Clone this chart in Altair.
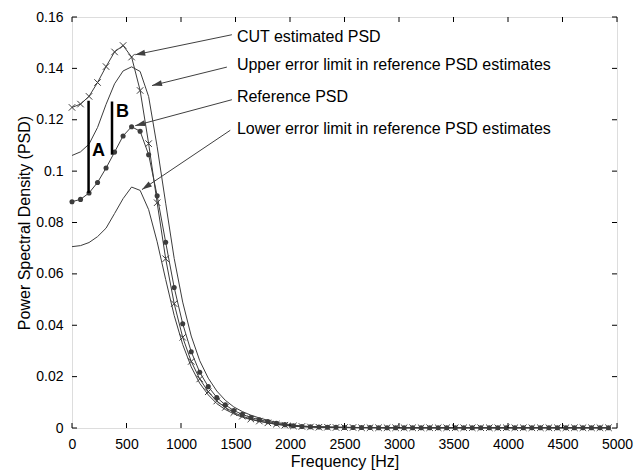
import math
import altair as alt
import pandas as pd

# ---------------- data ----------------
freq_step = 78.125
freq = [i * freq_step for i in range(64)]

ref_psd = [0.0881, 0.0890, 0.0915, 0.0956, 0.1012, 0.1074, 0.1137, 0.1173, 0.1155, 0.1064,
           0.0904, 0.0723, 0.0547, 0.0406, 0.0297, 0.0217, 0.0161, 0.0119, 0.0090, 0.0068,
           0.0053, 0.0041, 0.0032, 0.0025, 0.0018, 0.0013, 0.0009, 0.0006, 0.0005, 0.0004,
           0.0003, 0.0003, 0.0002, 0.0002, 0.0002, 0.0002, 0.0001, 0.0001, 0.0001, 0.0001,
           0.0001, 0.0001, 0.0001, 0.0001, 0.0001, 0.0001, 0.0001, 0.0001, 0.0001, 0.0001,
           0.0001, 0.0001, 0.0001, 0.0001, 0.0001, 0.0001, 0.0001, 0.0001, 0.0001, 0.0001,
           0.0001, 0.0001, 0.0001, 0.0001]

cut_psd = [0.1248, 0.1261, 0.1291, 0.1345, 0.1407, 0.1464, 0.1489, 0.1444, 0.1314, 0.1107,
           0.0877, 0.0659, 0.0484, 0.0353, 0.0259, 0.0191, 0.0141, 0.0105, 0.0080, 0.0060,
           0.0046, 0.0035, 0.0027, 0.0020, 0.0015, 0.0011, 0.0008, 0.0006, 0.0004, 0.0003,
           0.0003, 0.0002, 0.0002, 0.0002, 0.0001, 0.0001, 0.0001, 0.0001, 0.0001, 0.0001,
           0.0001, 0.0001, 0.0001, 0.0001, 0.0001, 0.0001, 0.0001, 0.0001, 0.0001, 0.0001,
           0.0001, 0.0001, 0.0001, 0.0001, 0.0001, 0.0001, 0.0001, 0.0001, 0.0001, 0.0001,
           0.0001, 0.0001, 0.0001, 0.0001]

upper_psd = [0.1061, 0.1075, 0.1105, 0.1170, 0.1260, 0.1340, 0.1390, 0.1406, 0.1388, 0.1290,
             0.1095, 0.0875, 0.0660, 0.0490, 0.0358, 0.0262, 0.0194, 0.0144, 0.0108, 0.0082,
             0.0064, 0.0050, 0.0039, 0.0030, 0.0022, 0.0016, 0.0011, 0.0008, 0.0006, 0.0005,
             0.0004, 0.0003, 0.0003, 0.0002, 0.0002, 0.0002, 0.0002, 0.0001, 0.0001, 0.0001,
             0.0001, 0.0001, 0.0001, 0.0001, 0.0001, 0.0001, 0.0001, 0.0001, 0.0001, 0.0001,
             0.0001, 0.0001, 0.0001, 0.0001, 0.0001, 0.0001, 0.0001, 0.0001, 0.0001, 0.0001,
             0.0001, 0.0001, 0.0001, 0.0001]

lower_psd = [0.0706, 0.0710, 0.0722, 0.0745, 0.0778, 0.0835, 0.0893, 0.0938, 0.0925, 0.0850,
             0.0725, 0.0578, 0.0438, 0.0325, 0.0238, 0.0174, 0.0129, 0.0095, 0.0072, 0.0055,
             0.0042, 0.0033, 0.0026, 0.0020, 0.0014, 0.0010, 0.0007, 0.0005, 0.0004, 0.0003,
             0.0002, 0.0002, 0.0002, 0.0001, 0.0001, 0.0001, 0.0001, 0.0001, 0.0001, 0.0001,
             0.0001, 0.0001, 0.0001, 0.0001, 0.0001, 0.0001, 0.0001, 0.0001, 0.0001, 0.0001,
             0.0001, 0.0001, 0.0001, 0.0001, 0.0001, 0.0001, 0.0001, 0.0001, 0.0001, 0.0001,
             0.0001, 0.0001, 0.0001, 0.0001]

x_ticks = [0, 500, 1000, 1500, 2000, 2500, 3000, 3500, 4000, 4500, 5000]
y_ticks = [0, 0.02, 0.04, 0.06, 0.08, 0.1, 0.12, 0.14, 0.16]

ann_text = ["CUT estimated PSD",
            "Upper error limit in reference PSD estimates",
            "Reference PSD",
            "Lower error limit in reference PSD estimates"]
ann_text_hz = [1513, 1513, 1513, 1513]
ann_text_v = [0.1524, 0.1412, 0.1287, 0.1164]
arrow_start_hz = [1467, 1421, 1467, 1452]
arrow_start_v = [0.1531, 0.1405, 0.1278, 0.1159]
arrow_tip_hz = [580, 734, 580, 642]
arrow_tip_v = [0.1453, 0.1333, 0.1177, 0.0928]

bar_labels = ["A", "B"]
bar_hz = [152, 367]
bar_low = [0.0915, 0.1064]
bar_high = [0.1274, 0.1271]
bar_label_hz = [244, 464]
bar_label_v = [0.1077, 0.1229]

# ---------------- chart ----------------
W, H = 545, 411
FONT = "Liberation Sans"
CURVE = "#3c3c3c"
XMAX, YMAX = 5000, 0.16

xs = alt.Scale(domain=[0, XMAX], nice=False, zero=False)
ys = alt.Scale(domain=[0, YMAX], nice=False, zero=False)
X_AXIS = alt.Axis(values=x_ticks, format="d", ticks=False, domain=False, grid=False,
                  labelFontSize=14, labelPadding=9, labelColor="black", labelFlush=False,
                  titleFontSize=16, titleFontWeight="normal", titleColor="black", titlePadding=2)
Y_AXIS = alt.Axis(values=y_ticks, format="~g", ticks=False, domain=False, grid=False,
                  labelFontSize=14, labelPadding=9, labelColor="black", labelFlush=False,
                  titleFontSize=16, titleFontWeight="normal", titleColor="black", titlePadding=3)
XT = "Frequency [Hz]"
YT = "Power Spectral Density (PSD)"


def X(field):
    return alt.X(field, type="quantitative", scale=xs, axis=X_AXIS, title=XT)


def Y(field):
    return alt.Y(field, type="quantitative", scale=ys, axis=Y_AXIS, title=YT)


curves = pd.concat([
    pd.DataFrame({"f": freq, "v": vals, "s": name})
    for name, vals in [("cut", cut_psd), ("upper", upper_psd), ("ref", ref_psd), ("lower", lower_psd)]
])
df_ref = pd.DataFrame({"f": freq, "v": ref_psd})
df_cut = pd.DataFrame({"f": freq, "v": cut_psd})

lines = alt.Chart(curves).mark_line(color=CURVE, strokeWidth=1).encode(
    x=X("f"), y=Y("v"), detail="s:N")

dots = alt.Chart(df_ref).mark_circle(size=26, color=CURVE, opacity=1).encode(x=X("f"), y=Y("v"))

XPATH = "M-1,-1L1,1M-1,1L1,-1"
xmarks = alt.Chart(df_cut).mark_point(shape=XPATH, size=42, color=CURVE, strokeWidth=1,
                                      filled=False, opacity=1).encode(x=X("f"), y=Y("v"))

# inward ticks (MATLAB style box)
xt_df = pd.DataFrame({"f": x_ticks})
yt_df = pd.DataFrame({"v": y_ticks})
tb = alt.Chart(xt_df).mark_rule(color="black", strokeWidth=1).encode(
    x=X("f"), y=alt.value(H), y2=alt.value(H - 5))
tt = alt.Chart(xt_df).mark_rule(color="black", strokeWidth=1).encode(
    x=X("f"), y=alt.value(0), y2=alt.value(5))
tl = alt.Chart(yt_df).mark_rule(color="black", strokeWidth=1).encode(
    y=Y("v"), x=alt.value(0), x2=alt.value(5))
tr = alt.Chart(yt_df).mark_rule(color="black", strokeWidth=1).encode(
    y=Y("v"), x=alt.value(W), x2=alt.value(W - 5))

# annotations
px_hz = W / XMAX
px_v = H / YMAX
angles = [math.degrees(math.atan2(-(tv - sv) * px_v, (th - sh) * px_hz))
          for sh, sv, th, tv in zip(arrow_start_hz, arrow_start_v, arrow_tip_hz, arrow_tip_v)]
arr_df = pd.DataFrame({"f": arrow_start_hz, "v": arrow_start_v,
                       "f2": arrow_tip_hz, "v2": arrow_tip_v, "ang": angles})
arrow_lines = alt.Chart(arr_df).mark_rule(color="#404040", strokeWidth=1).encode(
    x=X("f"), y=Y("v"), x2="f2:Q", y2="v2:Q")
HEAD = "M0,0L-2,-0.6L-2,0.6Z"
arrow_heads = alt.Chart(arr_df).mark_point(shape=HEAD, size=100, filled=True, color="#404040",
                                           opacity=1, strokeWidth=0).encode(
    x=X("f2"), y=Y("v2"), angle=alt.Angle("ang:Q", scale=None))

txt_df = pd.DataFrame({"f": ann_text_hz, "v": ann_text_v, "t": ann_text})
texts = alt.Chart(txt_df).mark_text(align="left", baseline="middle", font=FONT, fontSize=16,
                                    color="black").encode(x=X("f"), y=Y("v"), text="t:N")

bar_df = pd.DataFrame({"f": bar_hz, "v": bar_low, "v2": bar_high})
bars = alt.Chart(bar_df).mark_rule(color="black", strokeWidth=2.5).encode(
    x=X("f"), y=Y("v"), y2="v2:Q")
bl_df = pd.DataFrame({"f": bar_label_hz, "v": bar_label_v, "t": bar_labels})
bar_text = alt.Chart(bl_df).mark_text(align="center", baseline="middle", font=FONT, fontSize=18,
                                      fontWeight="bold", color="black").encode(
    x=X("f"), y=Y("v"), text="t:N")

chart = alt.layer(
    lines, dots, xmarks, tb, tt, tl, tr, arrow_lines, arrow_heads, texts, bars, bar_text
).properties(
    width=W, height=H,
    autosize=alt.AutoSizeParams(type="none"),
    padding={"left": 72, "top": 17, "right": 17, "bottom": 43},
    background="white",
).configure_view(
    stroke="black", strokeWidth=1
).configure(
    font=FONT
)

chart.save("out.html", embed_options={"renderer": "svg", "actions": False})
